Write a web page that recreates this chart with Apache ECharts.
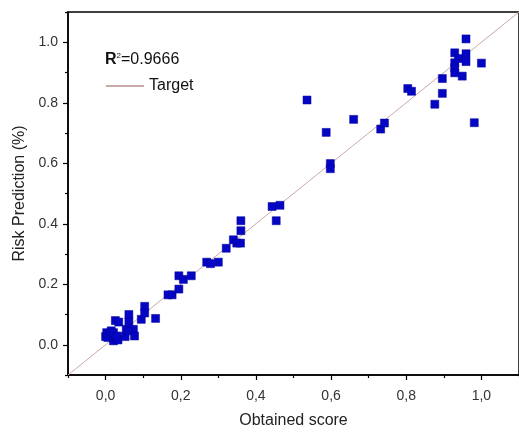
<!DOCTYPE html>
<html>
<head>
<meta charset="utf-8">
<script src="https://cdn.jsdelivr.net/npm/echarts@6/dist/echarts.min.js"></script>
<style>
  html, body { margin: 0; padding: 0; background: #fff; }
  #chart { width: 519px; height: 434px; }
</style>
</head>
<body>
<div id="chart"></div>
<script>
// Valores
const obtained = [
  0.000, 0.003, 0.006, 0.011, 0.015, 0.021, 0.021, 0.026, 0.026, 0.031, 0.033, 0.035,
  0.030, 0.052, 0.055, 0.062, 0.062, 0.074, 0.062, 0.077, 0.095, 0.104, 0.104, 0.133,
  0.166, 0.177, 0.195, 0.195, 0.207, 0.228, 0.269, 0.279, 0.300, 0.321, 0.340, 0.349,
  0.359, 0.360, 0.360, 0.443, 0.454, 0.464, 0.536, 0.587, 0.598, 0.598, 0.660, 0.732,
  0.742, 0.804, 0.814, 0.876, 0.896, 0.896, 0.929, 0.939, 0.929, 0.929, 0.929, 0.949,
  0.959, 0.959, 0.959, 0.981, 1.000
];
const predicted = [
  0.027, 0.040, 0.024, 0.035, 0.046, 0.013, 0.040, 0.080, 0.024, 0.019, 0.016, 0.075,
  0.029, 0.027, 0.051, 0.100, 0.076, 0.051, 0.046, 0.029, 0.084, 0.127, 0.105, 0.087,
  0.165, 0.165, 0.184, 0.228, 0.216, 0.228, 0.273, 0.268, 0.273, 0.319, 0.347, 0.336,
  0.336, 0.377, 0.410, 0.457, 0.410, 0.461, 0.809, 0.702, 0.599, 0.582, 0.745, 0.713,
  0.733, 0.847, 0.838, 0.795, 0.831, 0.880, 0.965, 0.946, 0.932, 0.916, 0.899, 0.888,
  1.011, 0.962, 0.936, 0.734, 0.931
];
const targetLine = [[-0.1, -0.1], [1.1, 1.1]];
const majorTicks = [0, 0.2, 0.4, 0.6, 0.8, 1.0];
const minorTicks = [-0.1, 0.1, 0.3, 0.5, 0.7, 0.9, 1.1];
const r2Value = "0.9666";

const chart = echarts.init(document.getElementById("chart"));
const font = "Liberation Sans, Arial, sans-serif";

function makeAxis(isX, main) {
  const axis = {
    type: "value",
    min: -0.1,
    max: 1.1,
    position: isX ? "bottom" : "left",
    splitLine: { show: false },
    axisLine: { show: main, onZero: false, lineStyle: { color: "#000", width: 1.5 } },
    axisTick: {
      show: true,
      inside: false,
      length: main ? 5 : 3,
      customValues: main ? majorTicks : minorTicks,
      lineStyle: { color: "#000", width: 1.2 },
    },
    axisLabel: { show: false },
  };
  if (main) {
    axis.axisLabel = {
      show: true,
      customValues: majorTicks,
      color: "#333",
      fontFamily: font,
      fontSize: 14,
      margin: isX ? 14 : 10,
      formatter: (v) => {
        const s = (Math.round(v * 10) / 10).toFixed(1);
        return isX ? s.replace(".", ",") : s;
      },
    };
    axis.name = isX ? "Obtained score" : "Risk Prediction (%)";
    axis.nameLocation = "middle";
    axis.nameGap = isX ? 38 : 34;
    axis.nameTextStyle = { color: "#222", fontFamily: font, fontSize: 16 };
  }
  return axis;
}

const option = {
  backgroundColor: "#fff",
  animation: false,
  grid: {
    left: 68, top: 12, right: -2, bottom: 55,
    show: true, borderColor: "#000", borderWidth: 1.5,
  },
  title: {
    left: 105,
    top: 52,
    padding: 0,
    text: "{b|R}{sup|2}{n|=" + r2Value + "}",
    textStyle: {
      fontWeight: "normal",
      rich: {
        b: { fontFamily: font, fontSize: 16, fontWeight: "bold", color: "#111" },
        sup: { fontFamily: font, fontSize: 8, fontWeight: "normal", color: "#111", verticalAlign: "top", padding: [0, 0, 8, 0] },
        n: { fontFamily: font, fontSize: 16, fontWeight: "normal", color: "#111" },
      },
    },
  },
  legend: {
    data: ["Target"],
    left: 100,
    top: 73,
    itemWidth: 38,
    itemHeight: 2,
    itemGap: 8,
    textStyle: { fontFamily: font, fontSize: 16, color: "#111" },
  },
  xAxis: [makeAxis(true, true), makeAxis(true, false)],
  yAxis: [makeAxis(false, true), makeAxis(false, false)],
  series: [
    {
      name: "Target",
      type: "line",
      data: targetLine,
      symbol: "none",
      lineStyle: { color: "#c9aaa6", width: 1 },
      itemStyle: { color: "#c9aaa6" },
      z: 1,
    },
    {
      name: "Data",
      type: "scatter",
      data: obtained.map((x, i) => [x, predicted[i]]),
      symbol: "rect",
      symbolSize: 8,
      itemStyle: { color: "#0505c4", borderColor: "#03039a", borderWidth: 0.5, opacity: 1 },
      z: 3,
    },
  ],
};

chart.setOption(option);
</script>
</body>
</html>
